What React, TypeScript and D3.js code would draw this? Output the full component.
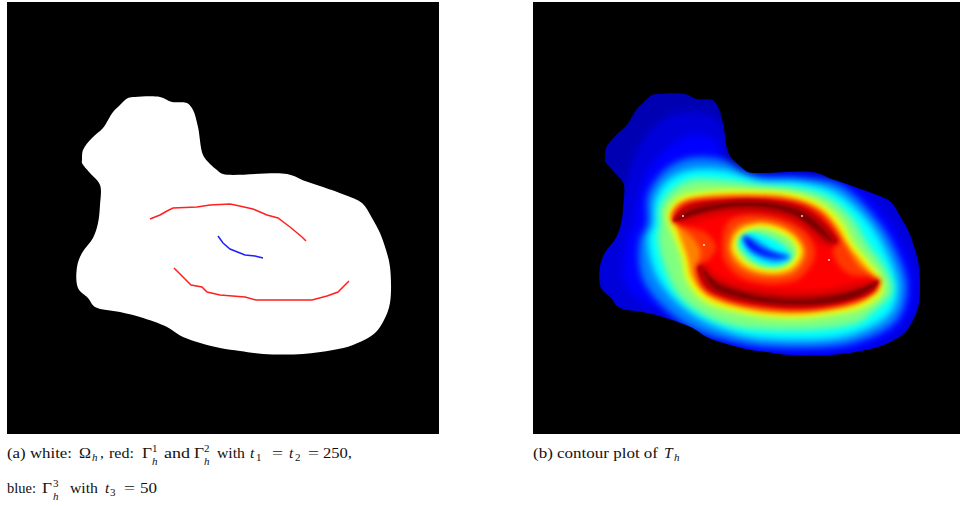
import React from 'react';
import * as d3 from 'd3';

type Pt = [number, number];

// Omega_h outline and the three curves in picture pixels
const omega: Pt[] = [
  [82, 160], [83, 150], [92, 138], [103, 128], [113, 112], [120, 105], [128, 98], [135, 97], [160, 97], [172, 102],
  [187, 103], [193, 110], [198, 127], [203, 155], [210, 164], [217, 170], [223, 174], [287, 174], [305, 181], [323, 187], [345, 195], [362, 203],
  [372, 218], [380, 233], [386, 250], [390, 267], [390, 303], [384, 320], [375, 333], [353, 345], [333, 350], [303, 354], [263, 354], [240, 351], [220, 348],
  [183, 337], [167, 327], [140, 317], [120, 312], [95, 307], [88, 298], [78, 288], [77, 267], [82, 253],
  [93, 238], [98, 223], [100, 205], [100, 185], [90, 173], [82, 163],
];
const gamma1: Pt[] = [
  [150, 219], [160, 215], [167, 211], [173, 208], [197, 207], [210, 205], [230, 204], [235, 205], [253, 209],
  [267, 215], [278, 218], [290, 227], [302, 237], [306, 241],
];
const gamma2: Pt[] = [
  [174, 268], [183, 277], [191, 285], [202, 287], [207, 292], [220, 295], [245, 297], [256, 300], [312, 300],
  [327, 296], [338, 292], [349, 281],
];
const gamma3: Pt[] = [
  [218, 236], [223, 243], [230, 249], [240, 253], [245, 255], [255, 256], [263, 258],
];

// Iso-lines of T_h in picture pixels
const isoDeep: Pt[] = [
  [612, 230], [625, 185], [640, 145], [665, 118], [695, 112], [720, 122], [735, 170], [800, 170], [900, 200],
  [930, 290], [900, 340], [800, 365], [700, 340], [620, 310], [595, 270],
];
const isoBlue: Pt[] = [
  [633, 225], [640, 190], [655, 160], [690, 135], [715, 140], [727, 165], [745, 172], [800, 175], [860, 190],
  [890, 222], [907, 253], [915, 285], [907, 320], [867, 348], [797, 355], [740, 348], [677, 320], [627, 287], [627, 237],
];
const isoAzure: Pt[] = [
  [647, 225], [648, 195], [665, 170], [690, 158], [723, 160], [745, 172], [760, 177], [800, 178], [840, 185],
  [877, 220], [897, 253], [907, 287], [897, 320], [857, 342], [797, 348], [740, 343], [683, 323], [643, 280], [640, 240],
];
const isoCyan: Pt[] = [
  [653, 225], [655, 200], [668, 180], [690, 170], [723, 170], [760, 180], [800, 182], [835, 192], [867, 220],
  [887, 253], [898, 287], [890, 313], [850, 335], [790, 340], [740, 335], [690, 313], [657, 277], [648, 237],
];
const isoGreen: Pt[] = [
  [660, 225], [660, 208], [670, 192], [690, 180], [723, 180], [760, 185], [800, 189], [827, 197], [852, 218],
  [867, 243], [885, 268], [892, 292], [873, 312], [857, 323], [790, 330], [723, 323], [680, 297], [663, 263], [658, 235],
];
const isoYellow: Pt[] = [
  [667, 217], [668, 210], [680, 197], [703, 192], [743, 190], [793, 193], [820, 203], [840, 220], [853, 243],
  [867, 260], [882, 280], [882, 293], [863, 307], [827, 315], [787, 318], [743, 313], [703, 300], [687, 280], [682, 257], [673, 233],
];
const isoOrange: Pt[] = [
  [673, 214], [684, 201], [705, 196], [743, 194], [790, 197], [818, 207], [836, 224], [850, 247], [865, 265],
  [877, 281], [875, 291], [860, 303], [825, 311], [787, 314], [745, 309], [707, 296], [692, 278], [687, 257], [678, 232],
];
const isoRedOrange: Pt[] = [
  [671, 218], [680, 203], [727, 197], [793, 200], [823, 213], [842, 240], [860, 267], [878, 279], [877, 290],
  [843, 306], [793, 311], [733, 303], [700, 285], [698, 265], [700, 250], [690, 235],
];
const isoRed: Pt[] = [
  [675, 215], [687, 205], [727, 199], [793, 202], [820, 216], [837, 240], [833, 253], [847, 273], [873, 279],
  [875, 289], [843, 303], [793, 307], [733, 299], [703, 283], [697, 268], [708, 260], [716, 247], [706, 233], [677, 223],
];
// dip around Gamma^3
const holeRedOrange: Pt[] = [
  [722, 247], [728, 222], [755, 214], [785, 218], [808, 235], [815, 255], [800, 278], [773, 284], [742, 278], [726, 264],
];
const holeOrange: Pt[] = [
  [728, 247], [735, 228], [756, 221], [782, 225], [800, 238], [806, 254], [795, 272], [773, 277], [747, 272], [733, 261],
];
const holeYellow: Pt[] = [
  [732, 247], [738, 232], [757, 224], [780, 228], [797, 240], [802, 253], [792, 268], [773, 273], [750, 268], [737, 258],
];
const holeGreen: Pt[] = [
  [736, 246], [742, 235], [757, 228], [778, 232], [793, 242], [797, 253], [788, 265], [773, 269], [753, 265], [740, 255],
];
const holeCyan: Pt[] = [
  [738, 240], [747, 232], [763, 235], [783, 245], [792, 257], [783, 265], [763, 265], [747, 255],
];
const holeAzure: Pt[] = [
  [743, 236], [753, 238], [773, 250], [790, 257], [777, 262], [760, 258], [747, 249],
];
const holeBlue: Pt[] = [
  [743, 236], [748, 238], [760, 248], [773, 253], [790, 257], [773, 257], [758, 253], [747, 245],
];
// the two ridges along Gamma^1 and Gamma^2
const ridgeTopWide: Pt[] = [
  [672, 222], [684, 205], [727, 198], [767, 198], [802, 204], [823, 218], [840, 242], [826, 247], [806, 232],
  [790, 222], [760, 215], [727, 215], [702, 220], [684, 224],
];
const ridgeTop: Pt[] = [
  [673, 221], [685, 208], [727, 200], [767, 200], [800, 207], [820, 220], [837, 242], [828, 243], [810, 228],
  [793, 217], [760, 210], [727, 210], [700, 215], [683, 220],
];
const ridgeTopPeak: Pt[] = [
  [677, 220], [690, 211], [727, 203], [767, 203], [798, 210], [817, 223], [832, 241], [812, 227], [795, 215],
  [765, 207], [727, 207], [695, 214],
];
const ridgeBottomWide: Pt[] = [
  [696, 266], [704, 263], [716, 274], [738, 283], [767, 289], [800, 291], [833, 288], [858, 282], [880, 279],
  [876, 292], [848, 304], [800, 310], [760, 307], [725, 300], [704, 289],
];
const ridgeBottom: Pt[] = [
  [698, 267], [702, 266], [713, 278], [737, 288], [767, 294], [800, 296], [833, 293], [860, 287], [878, 281],
  [873, 290], [847, 301], [800, 307], [760, 304], [727, 297], [707, 287],
];
const ridgeBottomPeak: Pt[] = [
  [704, 270], [718, 284], [740, 292], [768, 298], [800, 300], [835, 296], [860, 289], [877, 282], [862, 294],
  [835, 302], [800, 304], [765, 302], [735, 296], [713, 287],
];
const sourceDots: Pt[] = [[683, 216], [802, 216], [704, 245], [829, 260]];

// wide outer bands get the stronger smoothing, the tight inner ones the weaker
const outerLayers: [number, Pt[]][] = [
  [0.09, isoDeep], [0.125, isoBlue], [0.25, isoAzure], [0.375, isoCyan], [0.5, isoGreen], [0.625, isoYellow],
];
const innerLayers: [number, Pt[]][] = [
  [0.75, isoOrange], [0.82, isoRedOrange], [0.875, isoRed], [0.82, holeRedOrange], [0.75, holeOrange], [0.625, holeYellow],
  [0.5, holeGreen], [0.375, holeCyan], [0.25, holeAzure], [0.125, holeBlue],
  [0.91, ridgeTopWide], [0.91, ridgeBottomWide],
];
const ridgeLayers: [number, Pt[]][] = [
  [0.95, ridgeTop], [0.95, ridgeBottom], [1, ridgeTopPeak], [1, ridgeBottomPeak],
];

const jet = d3.scaleLinear<string>()
  .domain([0, 0.125, 0.375, 0.625, 0.875, 1])
  .range(['#000080', '#0000ff', '#00ffff', '#ffff00', '#ff0000', '#800000']);

// panel (a) shows the picture as read, panel (b) the same mesh slightly larger
const xA = d3.scaleLinear().domain([7, 439]).range([7, 439]);
const yA = d3.scaleLinear().domain([2, 434]).range([2, 434]);
const xB = d3.scaleLinear().domain([78, 390]).range([601, 919]);
const yB = d3.scaleLinear().domain([97, 355]).range([94, 356]);
const xT = d3.scaleLinear().domain([533, 960]).range([533, 960]);
const yT = d3.scaleLinear().domain([2, 434]).range([2, 434]);

const curveSmooth = d3.curveCatmullRomClosed.alpha(0.5);
const lineA = d3.line<Pt>().x(d => xA(d[0])).y(d => yA(d[1]));
const outlineA = d3.line<Pt>().x(d => xA(d[0])).y(d => yA(d[1])).curve(curveSmooth);
const outlineB = d3.line<Pt>().x(d => xB(d[0])).y(d => yB(d[1])).curve(curveSmooth);
const iso = d3.line<Pt>().x(d => xT(d[0])).y(d => yT(d[1])).curve(curveSmooth);

const serif = '"Liberation Serif", serif';

const Cap = ({ x, y, w, size = 15.5, italic = false, children }: any) => (
  <text
    x={x}
    y={y}
    fontFamily={serif}
    fontSize={size}
    fontStyle={italic ? 'italic' : 'normal'}
    fill="#111"
    textLength={w}
    lengthAdjust={w ? 'spacingAndGlyphs' : undefined}
  >
    {children}
  </text>
);

const App = () => (
  <svg width={960} height={506} style={{ position: 'absolute', left: 0, top: 0, background: '#fff' }}>
    <defs>
      <clipPath id="omega-b"><path d={outlineB(omega) || ''} /></clipPath>
      <filter id="soft-wide" x="-10%" y="-10%" width="120%" height="120%" colorInterpolationFilters="sRGB">
        <feGaussianBlur stdDeviation={3.5} />
      </filter>
      <filter id="soft" x="-10%" y="-10%" width="120%" height="120%" colorInterpolationFilters="sRGB">
        <feGaussianBlur stdDeviation={2.6} />
      </filter>
      <filter id="soft-ridge" x="-10%" y="-10%" width="120%" height="120%" colorInterpolationFilters="sRGB">
        <feGaussianBlur stdDeviation={1.2} />
      </filter>
    </defs>

    <rect x={xA(7)} y={yA(2)} width={xA(439) - xA(7)} height={yA(434) - yA(2)} fill="#000" />
    <path d={outlineA(omega) || ''} fill="#fff" />
    <path d={lineA(gamma1) || ''} fill="none" stroke="#ff2020" strokeWidth={1.5} />
    <path d={lineA(gamma2) || ''} fill="none" stroke="#ff2020" strokeWidth={1.5} />
    <path d={lineA(gamma3) || ''} fill="none" stroke="#2020ff" strokeWidth={1.5} />

    <rect x={xT(533)} y={yT(2)} width={xT(960) - xT(533)} height={yT(434) - yT(2)} fill="#000" />
    <g clipPath="url(#omega-b)">
      <g filter="url(#soft-wide)">
        <rect x={xT(580)} y={yT(70)} width={370} height={310} fill={jet(0.05)} />
        {outerLayers.map(([level, pts], i) => (
          <path key={i} d={iso(pts) || ''} fill={jet(level)} />
        ))}
      </g>
      <g filter="url(#soft)">
        {innerLayers.map(([level, pts], i) => (
          <path key={i} d={iso(pts) || ''} fill={jet(level)} />
        ))}
      </g>
      <g filter="url(#soft-ridge)">
        {ridgeLayers.map(([level, pts], i) => (
          <path key={i} d={iso(pts) || ''} fill={jet(level)} />
        ))}
      </g>
    </g>
    {sourceDots.map((d, i) => (
      <rect key={i} x={xT(d[0]) - 0.8} y={yT(d[1]) - 0.8} width={1.6} height={1.6} fill="#fff" />
    ))}

    <Cap x={7} y={458} w={65}>(a) white:</Cap>
    <Cap x={79} y={458} w={12}>Ω</Cap>
    <Cap x={92} y={461} size={11}  italic>h</Cap>
    <Cap x={100} y={458}>,</Cap>
    <Cap x={109} y={458} w={25}>red:</Cap>
    <Cap x={142} y={458} w={10}>Γ</Cap>
    <Cap x={152} y={452} size={11}>1</Cap>
    <Cap x={152} y={465} size={11}  italic>h</Cap>
    <Cap x={164} y={458} w={26}>and</Cap>
    <Cap x={194} y={458} w={10}>Γ</Cap>
    <Cap x={204} y={452} size={11}>2</Cap>
    <Cap x={204} y={465} size={11}  italic>h</Cap>
    <Cap x={217} y={458} w={28}>with</Cap>
    <Cap x={250} y={458} italic>t</Cap>
    <Cap x={256} y={461} size={11}>1</Cap>
    <Cap x={272} y={458} w={11}>=</Cap>
    <Cap x={289} y={458} italic>t</Cap>
    <Cap x={295} y={461} size={11}>2</Cap>
    <Cap x={308} y={458} w={11}>=</Cap>
    <Cap x={323} y={458} w={29}>250,</Cap>

    <Cap x={7} y={493} w={29}>blue:</Cap>
    <Cap x={42} y={493} w={10}>Γ</Cap>
    <Cap x={53} y={487} size={11}>3</Cap>
    <Cap x={53} y={500} size={11}  italic>h</Cap>
    <Cap x={70} y={493} w={28}>with</Cap>
    <Cap x={105} y={493} italic>t</Cap>
    <Cap x={110} y={496} size={11}>3</Cap>
    <Cap x={124} y={493} w={11}>=</Cap>
    <Cap x={140} y={493} w={17}>50</Cap>

    <Cap x={533} y={458} w={125}>(b) contour plot of</Cap>
    <Cap x={664} y={458} italic>T</Cap>
    <Cap x={674} y={461} size={11} italic>h</Cap>
  </svg>
);

export default App;
